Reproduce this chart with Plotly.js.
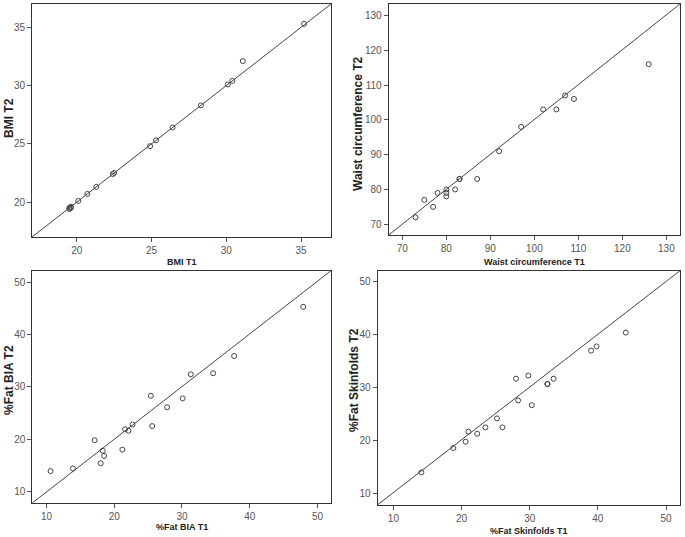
<!DOCTYPE html>
<html>
<head>
<meta charset="utf-8">
<script src="https://cdn.plot.ly/plotly-3.0.1.min.js"></script>
<style>html,body{margin:0;padding:0;background:#fff;}#chart{width:685px;height:537px;}</style>
</head>
<body>
<div id="chart"></div>
<script>
// ---- data ----
var bmiT1 = [35.2, 31.1, 30.4, 30.1, 28.3, 26.4, 25.3, 24.9, 22.5, 22.4, 21.3, 20.7, 20.1, 19.6, 19.5, 19.5, 19.6];
var bmiT2 = [35.3, 32.1, 30.4, 30.1, 28.3, 26.4, 25.3, 24.8, 22.5, 22.4, 21.3, 20.7, 20.1, 19.6, 19.5, 19.4, 19.5];

var waistT1 = [126, 107, 109, 102, 105, 97, 92, 87, 83, 83, 82, 80, 80, 80, 78, 75, 77, 73];
var waistT2 = [116, 107, 106, 103, 103, 98, 91, 83, 83, 83, 80, 80, 79, 78, 79, 77, 75, 72];

var biaT1 = [47.9, 37.7, 34.6, 31.3, 30.1, 27.8, 25.4, 25.6, 22.7, 21.6, 22.1, 21.2, 17.1, 18.3, 18.5, 18.0, 13.9, 10.6];
var biaT2 = [45.3, 35.9, 32.6, 32.4, 27.8, 26.1, 28.3, 22.5, 22.8, 21.9, 21.6, 18.0, 19.8, 17.8, 16.8, 15.4, 14.4, 13.9];

var skinT1 = [44.1, 39.8, 39.0, 33.5, 32.6, 32.6, 29.8, 28.0, 28.3, 30.3, 25.2, 26.0, 23.5, 22.3, 21.0, 20.6, 18.8, 14.1];
var skinT2 = [40.4, 37.8, 37.0, 31.7, 30.7, 30.7, 32.3, 31.7, 27.6, 26.7, 24.2, 22.5, 22.5, 21.3, 21.7, 19.8, 18.6, 14.0];

var xTitles = ["BMI T1", "Waist circumference T1", "%Fat BIA T1", "%Fat Skinfolds T1"];
var yTitles = ["BMI T2", "Waist circumference T2", "%Fat BIA T2", "%Fat Skinfolds T2"];

// ---- styling ----
var W = 685, H = 537;
var tickFont = {family: "Liberation Sans Narrow, Arial Narrow, Liberation Sans, Arial, sans-serif", size: 10, color: "#555"};
var titleFont = {family: "Liberation Sans, Arial, sans-serif", size: 9, color: "#222", weight: "bold"};
var markerStyle = {symbol: "circle-open", size: 5, color: "#444", line: {width: 1, color: "#444"}};

function px(v){ return v / W; }
function py(v){ return 1 - v / H; }

// panel boxes in pixels: [left, right, top, bottom]
var boxes = [
  [32, 331, 4, 237],
  [388.7, 680, 4, 235],
  [32.3, 331, 270.7, 503],
  [377.7, 680, 270.7, 504.7]
];
var ranges = [
  {x: [17, 37], y: [17, 37], dt: 5},
  {x: [66.9, 133.1], y: [66.9, 133.3], dt: 10},
  {x: [7.9, 52.0], y: [7.8, 52.2], dt: 10},
  {x: [7.7, 52.05], y: [7.9, 52.1], dt: 10}
];
var xs = [bmiT1, waistT1, biaT1, skinT1];
var ys = [bmiT2, waistT2, biaT2, skinT2];
// title positions [xTitleY, yTitleX, yTitleCenterY]
var titlePos = [
  [262, 9, 118],
  [262, 358, 124],
  [527, 9, 380],
  [531, 354, 380]
];

var data = [], layout = {
  width: W, height: H,
  margin: {l: 0, r: 0, t: 0, b: 0},
  paper_bgcolor: "#fff", plot_bgcolor: "#fff",
  showlegend: false,
  shapes: [], annotations: []
};

for (var i = 0; i < 4; i++) {
  var n = i + 1;
  var xa = n === 1 ? "x" : "x" + n;
  var ya = n === 1 ? "y" : "y" + n;
  var xk = n === 1 ? "xaxis" : "xaxis" + n;
  var yk = n === 1 ? "yaxis" : "yaxis" + n;
  var b = boxes[i];
  data.push({
    type: "scatter", mode: "markers",
    x: xs[i], y: ys[i], xaxis: xa, yaxis: ya,
    marker: markerStyle, hoverinfo: "x+y"
  });
  var axisCommon = {
    showline: true, mirror: true, linecolor: "#333", linewidth: 1,
    showgrid: false, zeroline: false,
    ticks: "outside", ticklen: 4, tickcolor: "#555", tickwidth: 1,
    tickfont: tickFont, dtick: ranges[i].dt, tick0: 0
  };
  layout[xk] = Object.assign({}, axisCommon, {
    domain: [px(b[0]), px(b[1])], range: ranges[i].x, anchor: ya
  });
  layout[yk] = Object.assign({}, axisCommon, {
    domain: [py(b[3]), py(b[2])], range: ranges[i].y, anchor: xa
  });
  // identity line corner to corner
  layout.shapes.push({
    type: "line", xref: xa + " domain", yref: ya + " domain",
    x0: 0, y0: 0, x1: 1, y1: 1,
    line: {color: "#444", width: 1}
  });
  layout.annotations.push({
    text: xTitles[i], showarrow: false, xref: "paper", yref: "paper",
    x: px((b[0] + b[1]) / 2), y: py(titlePos[i][0]),
    xanchor: "center", yanchor: "middle", font: titleFont
  });
  layout.annotations.push({
    text: yTitles[i], showarrow: false, xref: "paper", yref: "paper",
    x: px(titlePos[i][1]), y: py(titlePos[i][2]),
    xanchor: "center", yanchor: "middle", textangle: -90,
    font: Object.assign({}, titleFont, {size: 12})
  });
}

Plotly.newPlot("chart", data, layout, {displayModeBar: false, staticPlot: true});
</script>
</body>
</html>
